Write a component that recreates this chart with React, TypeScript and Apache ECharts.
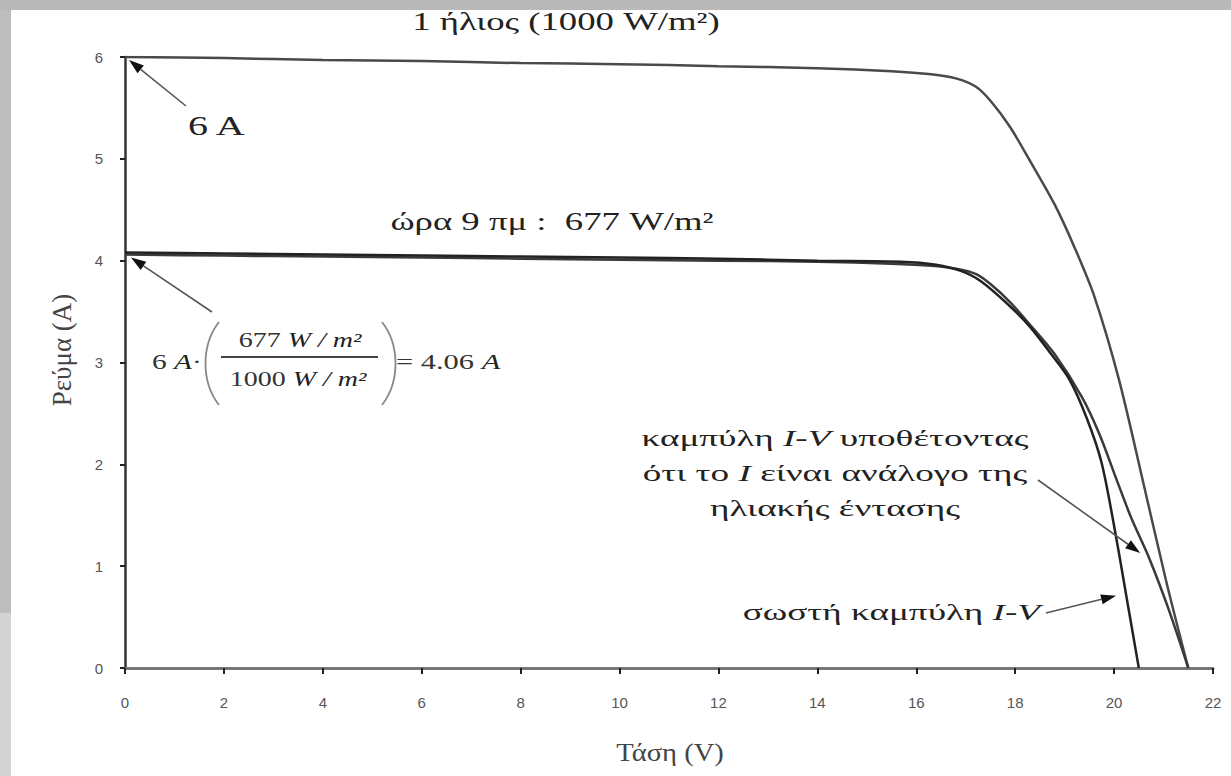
import React, { useEffect, useRef } from "react";
import * as echarts from "echarts";

// x-axis: voltage (V), y-axis: current (A)
const xMin = 0, xMax = 22, xStep = 2;
const yMin = 0, yMax = 6, yStep = 1;

// 1 sun (1000 W/m²)
const sunV = [0, 2, 4, 6, 8, 10, 12, 14, 15.5, 16.3, 16.8, 17.2, 17.5, 17.9, 18.3, 18.8, 19.2, 19.6, 20.1, 20.6, 21.05, 21.5];
const sunI = [6.0, 5.99, 5.97, 5.96, 5.94, 5.93, 5.91, 5.89, 5.86, 5.83, 5.79, 5.71, 5.57, 5.31, 4.98, 4.55, 4.13, 3.65, 2.83, 1.8, 0.86, 0];

// 9 am: 677 W/m², correct I-V curve
const correctV = [0, 2, 4, 6, 8, 10, 12, 14, 15.7, 16.4, 16.9, 17.3, 17.9, 18.3, 18.7, 19.1, 19.45, 19.75, 20.05, 20.25, 20.5];
const correctI = [4.08, 4.07, 4.06, 4.05, 4.04, 4.03, 4.02, 4.0, 3.99, 3.96, 3.9, 3.8, 3.55, 3.35, 3.1, 2.83, 2.45, 2.01, 1.26, 0.7, 0];

// I-V curve assuming I proportional to irradiance
const propV = [0, 2, 4, 6, 8, 10, 12, 14, 15.5, 16.3, 16.8, 17.2, 17.5, 17.9, 18.3, 18.8, 19.35, 19.7, 20.05, 20.35, 20.7, 21.1, 21.5];
const propI = [4.06, 4.05, 4.04, 4.03, 4.02, 4.01, 4.0, 3.99, 3.97, 3.95, 3.92, 3.87, 3.77, 3.59, 3.37, 3.08, 2.66, 2.3, 1.85, 1.47, 1.09, 0.58, 0];

const SERIF = "Liberation Serif, DejaVu Serif, serif";
const SANS = "Liberation Sans";

function arrow(x1: number, y1: number, x2: number, y2: number, len = 15, half = 5) {
  const dx = x2 - x1, dy = y2 - y1;
  const d = Math.sqrt(dx * dx + dy * dy);
  const ux = dx / d, uy = dy / d;
  const bx = x2 - ux * len, by = y2 - uy * len;
  const px = -uy * half, py = ux * half;
  return [
    { type: "line", z: 50, shape: { x1, y1, x2: bx, y2: by }, style: { stroke: "#555", lineWidth: 1.6 } },
    {
      type: "polygon", z: 51,
      shape: { points: [[x2, y2], [bx + px, by + py], [bx - px, by - py]] },
      style: { fill: "#111" },
    },
  ];
}

export default function App() {
  const ref = useRef<HTMLDivElement>(null);
  useEffect(() => {
    const chart = echarts.init(ref.current!, null, { renderer: "svg" });
    const mk = (vs: number[], is: number[]) => vs.map((v, k) => [v, is[k]]);
    const lineSeries = (name: string, vs: number[], is: number[], color: string) => ({
      name, type: "line", data: mk(vs, is), showSymbol: false, smooth: 0.3,
      lineStyle: { color, width: 2.5 }, z: 10,
    });
    chart.setOption({
      animation: false,
      backgroundColor: "#ffffff",
      grid: { left: 125, right: 18, top: 57, bottom: 108 },
      xAxis: {
        type: "value", min: xMin, max: xMax, interval: xStep,
        axisLine: { show: true, lineStyle: { color: "#777", width: 3 } },
        axisTick: { show: true, length: 6, lineStyle: { color: "#222", width: 2 } },
        axisLabel: { color: "#555", fontFamily: SANS, fontSize: 15, margin: 27 },
        splitLine: { show: false },
      },
      yAxis: {
        type: "value", min: yMin, max: yMax, interval: yStep,
        axisLine: { show: true, onZero: false, lineStyle: { color: "#333", width: 2.5 } },
        axisTick: { show: true, length: 5, lineStyle: { color: "#222", width: 2 } },
        axisLabel: { color: "#555", fontFamily: SANS, fontSize: 15, margin: 22 },
        splitLine: { show: false },
      },
      series: [
        lineSeries("1 ήλιος (1000 W/m²)", sunV, sunI, "#4a4a4a"),
        lineSeries("I ανάλογο της ηλιακής έντασης", propV, propI, "#3a3a3a"),
        lineSeries("σωστή καμπύλη I-V", correctV, correctI, "#222222"),
      ],
    });

    const p = (v: number, i: number) => chart.convertToPixel({ gridIndex: 0 }, [v, i]) as number[];
    const o = p(0, 6);
    const o2 = p(0, 4.06);
    const a3 = p(20.65, 1.1);
    const a4 = p(20.1, 0.7);

    const textStyle = (text: string, fontSize: number, extra: any = {}) => ({
      text, fontSize, fontFamily: SERIF, fill: "#222", align: "center", verticalAlign: "middle", ...extra,
    });
    const it = (fs: number) => ({ i: { fontStyle: "italic", fontFamily: SERIF, fontSize: fs, fill: "#222" } });

    const graphic: any[] = [
      { type: "rect", z: 0, shape: { x: 0, y: 0, width: 1231, height: 10 }, style: { fill: "#b9b9b9" } },
      { type: "rect", z: 0, shape: { x: 0, y: 10, width: 11, height: 603 }, style: { fill: "#bdbdbd" } },
      { type: "rect", z: 0, shape: { x: 0, y: 613, width: 11, height: 163 }, style: { fill: "#d3d3d3" } },
      // axis titles
      { type: "text", z: 20, x: 670, y: 752, scaleX: 1.1, style: textStyle("Τάση (V)", 26, { fill: "#444" }) },
      { type: "text", z: 20, x: 62, y: 350, rotation: Math.PI / 2, style: textStyle("Ρεύμα (A)", 27, { fill: "#444" }) },
      // curve labels
      { type: "text", z: 20, x: 566, y: 22, scaleX: 1.47, style: textStyle("1 ήλιος (1000 W/m²)", 25) },
      { type: "text", z: 20, x: 552, y: 222, scaleX: 1.47, style: textStyle("ώρα 9 πμ :  677 W/m²", 25) },
      { type: "text", z: 20, x: 188, y: 125, scaleX: 1.43, style: textStyle("6 A", 28, { align: "left" }) },
      {
        type: "text", z: 20, x: 835, y: 438, scaleX: 1.55,
        style: textStyle("καμπύλη {i|I-V} υποθέτοντας", 24, { rich: it(24) }),
      },
      {
        type: "text", z: 20, x: 835, y: 473, scaleX: 1.55,
        style: textStyle("ότι το {i|I} είναι ανάλογο της", 24, { rich: it(24) }),
      },
      { type: "text", z: 20, x: 835, y: 508, scaleX: 1.55, style: textStyle("ηλιακής έντασης", 24) },
      {
        type: "text", z: 20, x: 1040, y: 612, scaleX: 1.55,
        style: textStyle("σωστή καμπύλη {i|I-V}", 24, { rich: it(24), align: "right" }),
      },
      // formula
      { type: "text", z: 20, x: 152, y: 362, scaleX: 1.4, style: textStyle("6 {i|A}·", 21, { align: "left", fill: "#333", rich: it(21) }) },
      { type: "bezierCurve", z: 20, shape: { x1: 219, y1: 322, cpx1: 201, cpy1: 345, cpx2: 201, cpy2: 382, x2: 219, y2: 405 }, style: { stroke: "#888", lineWidth: 1.8, fill: null } },
      { type: "bezierCurve", z: 20, shape: { x1: 382, y1: 322, cpx1: 400, cpy1: 345, cpx2: 400, cpy2: 382, x2: 382, y2: 405 }, style: { stroke: "#888", lineWidth: 1.8, fill: null } },
      { type: "text", z: 20, x: 300, y: 340, scaleX: 1.4, style: textStyle("677 {i|W / m²}", 20, { fill: "#333", rich: it(20) }) },
      { type: "line", z: 20, shape: { x1: 221, y1: 357, x2: 378, y2: 357 }, style: { stroke: "#444", lineWidth: 2 } },
      { type: "text", z: 20, x: 298, y: 379, scaleX: 1.4, style: textStyle("1000 {i|W / m²}", 20, { fill: "#333", rich: it(20) }) },
      { type: "text", z: 20, x: 396, y: 362, scaleX: 1.45, style: textStyle("= 4.06 {i|A}", 21, { align: "left", fill: "#333", rich: it(21) }) },
      // arrows
      ...arrow(186, 106, o[0] + 4, o[1] + 3),
      ...arrow(212, 312, o2[0] + 6, o2[1] + 3),
      ...arrow(1038, 480, a3[0] - 6, a3[1] - 3),
      ...arrow(1046, 613, a4[0] - 3, a4[1] - 1),
    ];
    chart.setOption({ graphic });
    return () => chart.dispose();
  }, []);
  return (
    <div
      ref={ref}
      style={{ position: "fixed", left: 0, top: 0, width: 1231, height: 776, background: "#fff" }}
    />
  );
}
